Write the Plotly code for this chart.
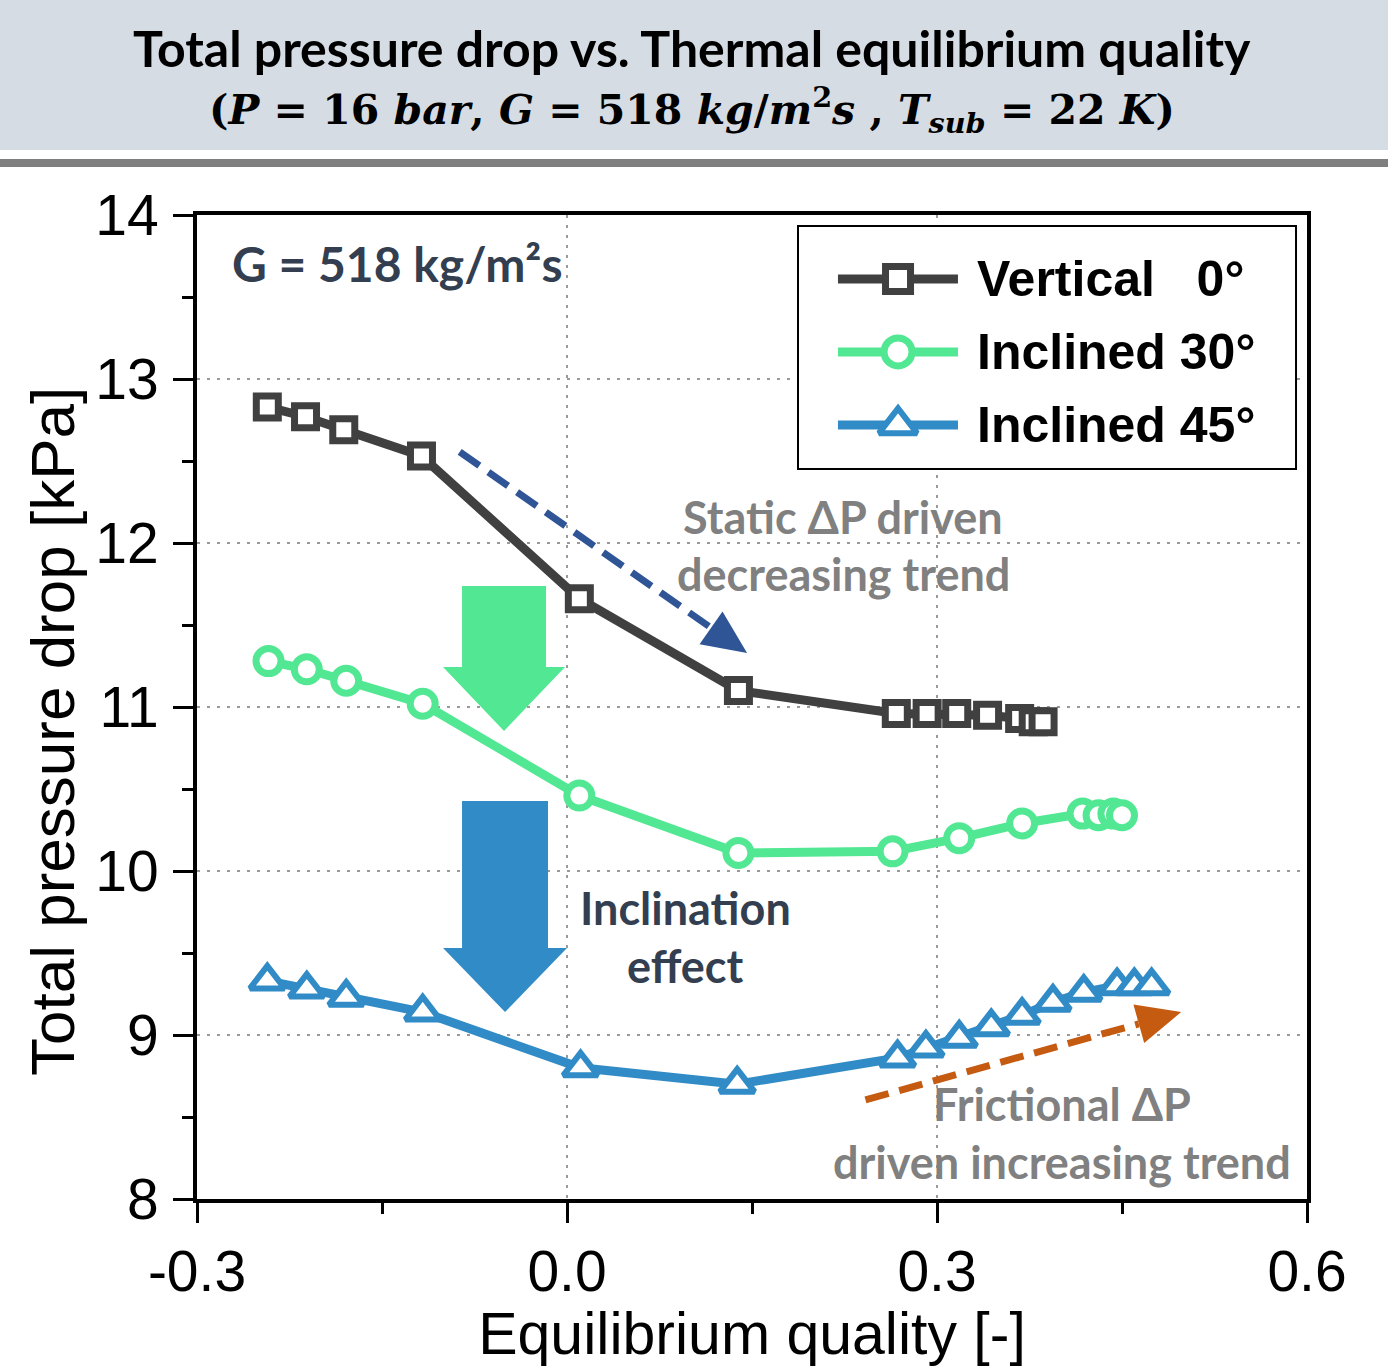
import numpy as np
import plotly.graph_objects as go

# ---- data: total pressure drop [kPa] vs. thermal equilibrium quality [-] ----
x_vertical = [-0.243, -0.212, -0.181, -0.118, 0.010, 0.139, 0.267, 0.292, 0.316, 0.341, 0.367, 0.378, 0.386]
dp_vertical = [12.83, 12.77, 12.69, 12.53, 11.66, 11.10, 10.96, 10.96, 10.96, 10.95, 10.93, 10.91, 10.91]

x_incl30 = [-0.242, -0.211, -0.179, -0.117, 0.010, 0.139, 0.264, 0.318, 0.369, 0.418, 0.431, 0.443, 0.450]
dp_incl30 = [11.28, 11.23, 11.16, 11.02, 10.46, 10.11, 10.12, 10.20, 10.29, 10.35, 10.34, 10.35, 10.34]

x_incl45 = [-0.243, -0.211, -0.179, -0.117, 0.011, 0.138, 0.268, 0.291, 0.318, 0.344, 0.369, 0.394,
            0.419, 0.446, 0.460, 0.474]
dp_incl45 = [9.33, 9.28, 9.23, 9.14, 8.80, 8.70, 8.86, 8.92, 8.98, 9.05, 9.12, 9.20, 9.26, 9.30, 9.30, 9.30]

series_names = ["Vertical   0°", "Inclined 30°", "Inclined 45°"]

x_ticks = [-0.3, 0.0, 0.3, 0.6]
x_tick_text = ["-0.3", "0.0", "0.3", "0.6"]
x_minor_ticks = [-0.15, 0.15, 0.45]
y_ticks = [8, 9, 10, 11, 12, 13, 14]
y_tick_text = ["8", "9", "10", "11", "12", "13", "14"]

# ---- styling ----
C_VERT = "#404040"
C_30 = "#52E893"
C_45 = "#318BC6"
C_NAVY = "#2F5597"
C_ORANGE = "#C55A11"
C_SLATE = "#333F50"
C_GRAY = "#808080"
SANS = "Liberation Sans, Arial, sans-serif"
HUMANIST = "Lato, 'Open Sans', sans-serif"

W, H = 1388, 1367
M_L, M_R, M_T, M_B = 197, 81, 215, 168
X_RANGE = [-0.3, 0.6]
Y_RANGE = [8, 14]
PX_X = (W - M_L - M_R) / (X_RANGE[1] - X_RANGE[0])
PX_Y = (H - M_T - M_B) / (Y_RANGE[1] - Y_RANGE[0])

fig = go.Figure()

styles = [
    (x_vertical, dp_vertical, C_VERT, "square", 22, 7),
    (x_incl30, dp_incl30, C_30, "circle", 25, 7),
    (x_incl45, dp_incl45, C_45, "triangle-up", 30, 6),
]
for (xs, ys, col, sym, size, lw), name in zip(styles, series_names):
    fig.add_trace(go.Scatter(
        x=xs, y=ys, mode="lines+markers", name=name,
        line=dict(color=col, width=9),
        marker=dict(symbol=sym, size=size, color="white", line=dict(color=col, width=lw)),
        cliponaxis=False,
    ))

shapes = []
annotations = []


def head_path(x0, y0, x1, y1, length, width):
    """Filled triangular arrow head at (x1, y1), sized in screen pixels."""
    dx, dy = (x1 - x0) * PX_X, (y1 - y0) * PX_Y
    n = np.hypot(dx, dy)
    ux, uy = dx / n, dy / n
    bx, by = -ux * length, -uy * length
    nx, ny = -uy * width / 2, ux * width / 2
    pts = [(x1, y1),
           (x1 + (bx + nx) / PX_X, y1 + (by + ny) / PX_Y),
           (x1 + (bx - nx) / PX_X, y1 + (by - ny) / PX_Y)]
    base = (x1 + bx / PX_X, y1 + by / PX_Y)
    path = "M " + " L ".join(f"{px:.5f},{py:.5f}" for px, py in pts) + " Z"
    return path, base


def dashed_arrow(x0, y0, x1, y1, color):
    path, base = head_path(x0, y0, x1, y1, 44, 40)
    shapes.append(dict(type="line", xref="x", yref="y", x0=x0, y0=y0, x1=base[0], y1=base[1],
                       line=dict(color=color, width=7, dash="24px,11px"), layer="above"))
    shapes.append(dict(type="path", xref="x", yref="y", path=path, fillcolor=color,
                       line=dict(width=0), layer="above"))


def block_arrow(sx0, sx1, hx0, hx1, y_top, y_neck, y_tip, color):
    tip_x = (hx0 + hx1) / 2
    path = (f"M {sx0},{y_top} L {sx1},{y_top} L {sx1},{y_neck} L {hx1},{y_neck} "
            f"L {tip_x},{y_tip} L {hx0},{y_neck} L {sx0},{y_neck} Z")
    shapes.append(dict(type="path", xref="x", yref="y", path=path, fillcolor=color,
                       line=dict(width=0), layer="between"))


# trend arrows
dashed_arrow(-0.087, 12.555, 0.146, 11.329, C_NAVY)
dashed_arrow(0.242, 8.604, 0.498, 9.140, C_ORANGE)

# inclination-effect block arrows
block_arrow(-0.0851, -0.0170, -0.1005, -0.0016, 11.738, 11.244, 10.854, C_30)
block_arrow(-0.0851, -0.0154, -0.1005, 0.0000, 10.427, 9.530, 9.140, C_45)

# legend box with hand-drawn entries
shapes.append(dict(type="rect", xref="x", yref="y", x0=0.1873, x1=0.5911, y0=12.451, y1=13.933,
                   fillcolor="white", line=dict(color="black", width=2), layer="between"))
legend_rows = [13.61, 13.165, 12.72]
for (xs, ys, col, sym, size, lw), name, ry in zip(styles, series_names, legend_rows):
    fig.add_trace(go.Scatter(
        x=[0.2197, 0.2684, 0.3170], y=[ry, ry, ry], mode="lines", showlegend=False,
        line=dict(color=col, width=9), hoverinfo="skip"))
    fig.add_trace(go.Scatter(
        x=[0.2684], y=[ry], mode="markers", showlegend=False, hoverinfo="skip",
        marker=dict(symbol=sym, size=size + 3, color="white", line=dict(color=col, width=lw))))
    annotations.append(dict(x=0.3308, y=ry, xref="x", yref="y", text=f"<b>{name}</b>",
                            xanchor="left", yanchor="middle", showarrow=False,
                            font=dict(family=SANS, size=50, color="black")))

# in-plot labels
def label(x, y, text, color, size=45, xanchor="center"):
    annotations.append(dict(x=x, y=y, xref="x", yref="y", text=f"<b>{text}</b>", showarrow=False,
                            xanchor=xanchor, yanchor="middle",
                            font=dict(family=HUMANIST, size=size, color=color)))


label(-0.2732, 13.707, "G = 518 kg/m²s", C_SLATE, size=48, xanchor="left")
label(0.2238, 12.159, "Static ΔP driven", C_GRAY)
label(0.2238, 11.811, "decreasing trend", C_GRAY)
label(0.0960, 9.774, "Inclination", C_SLATE)
label(0.0960, 9.421, "effect", C_SLATE)
label(0.4014, 8.579, "Frictional ΔP", C_GRAY)
label(0.4014, 8.226, "driven increasing trend", C_GRAY)

# header band above the plot
def xp(px):
    return (px - M_L) / (W - M_L - M_R)


def yp(py):
    return (H - M_B - py) / (H - M_T - M_B)


shapes.append(dict(type="rect", xref="paper", yref="paper", x0=xp(0), x1=xp(W), y0=yp(150), y1=yp(0),
                   fillcolor="#D6DCE4", line=dict(width=0), layer="below"))
shapes.append(dict(type="rect", xref="paper", yref="paper", x0=xp(0), x1=xp(W), y0=yp(167), y1=yp(159),
                   fillcolor="#7F7F7F", line=dict(width=0), layer="below"))
annotations.append(dict(x=xp(692), y=yp(48), xref="paper", yref="paper", showarrow=False,
                        text="<b>Total pressure drop vs. Thermal equilibrium quality</b>",
                        xanchor="center", yanchor="middle",
                        font=dict(family=HUMANIST, size=50, color="black")))
annotations.append(dict(x=xp(692), y=yp(110), xref="paper", yref="paper", showarrow=False,
                        text=("<b>(<i>P</i> = 16 <i>bar</i>, <i>G</i> = 518 <i>kg</i>/<i>m</i><sup>2</sup>"
                              "<i>s</i> , <i>T</i><sub><i>sub</i></sub> = 22 <i>K</i>)</b>"),
                        xanchor="center", yanchor="middle",
                        font=dict(family="DejaVu Serif, serif", size=41, color="black")))

# y-axis title, centred where the original layout puts it
annotations.append(dict(x=xp(52), y=yp(732), xref="paper", yref="paper", showarrow=False,
                        text="Total pressure drop [kPa]", textangle=-90,
                        xanchor="center", yanchor="middle",
                        font=dict(family=SANS, size=62, color="black")))

axis_common = dict(
    showline=True, linewidth=4, linecolor="black", mirror=True,
    ticks="outside", ticklen=20, tickwidth=3, tickcolor="black",
    showgrid=True, gridcolor="#9a9a9a", gridwidth=2, griddash="3px,7px",
    zeroline=False, tickfont=dict(family=SANS, size=57, color="black"),
)

fig.update_xaxes(range=X_RANGE, tickmode="array", tickvals=x_ticks, ticktext=x_tick_text,
                 minor=dict(tickmode="array", tickvals=x_minor_ticks, ticks="outside", ticklen=11,
                            tickwidth=3, tickcolor="black", showgrid=False),
                 title=dict(text="Equilibrium quality [-]", font=dict(family=SANS, size=59, color="black"),
                            standoff=8),
                 **axis_common)
fig.update_yaxes(range=Y_RANGE, tickmode="array", tickvals=y_ticks, ticktext=y_tick_text,
                 minor=dict(tick0=8, dtick=0.5, ticks="outside", ticklen=11, tickwidth=3,
                            tickcolor="black", showgrid=False),
                 ticklabelstandoff=3,
                 **axis_common)

fig.update_layout(width=W, height=H, margin=dict(l=M_L, r=M_R, t=M_T, b=M_B, autoexpand=False),
                  plot_bgcolor="white", paper_bgcolor="white", showlegend=False,
                  shapes=shapes, annotations=annotations)

fig.write_html("out.html")
